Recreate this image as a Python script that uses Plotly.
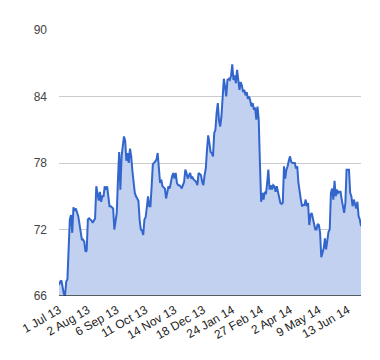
import plotly.graph_objects as go

values = [
    67.0, 67.3, 67.4, 66.8, 66.2, 66.0, 67.3, 67.5, 70.2, 72.9,
    73.3, 71.7, 74.0, 73.7, 73.9, 73.6, 73.2, 72.5, 71.6, 71.1,
    71.1, 70.9, 70.0, 70.1, 72.9, 73.0, 72.9, 72.8, 72.6, 72.8,
    73.0, 75.9, 75.3, 74.6, 75.4, 74.5, 75.0, 75.0, 75.9, 75.6,
    75.9, 74.8, 74.1, 74.1, 74.0, 73.9, 72.0, 72.8, 73.5, 76.5,
    79.0, 75.6, 78.6, 79.5, 80.4, 80.0, 78.2, 78.9, 78.0, 79.3,
    78.6, 77.3, 75.9, 75.3, 75.0, 74.8, 74.6, 72.9, 72.0, 71.9,
    71.5, 72.9, 73.1, 74.0, 75.0, 74.1, 74.1, 75.9, 77.9, 78.0,
    78.2, 78.3, 78.9, 77.7, 76.2, 76.5, 75.9, 75.8, 75.7, 74.8,
    75.3, 75.9, 75.7, 76.4, 76.8, 77.1, 76.6, 77.1, 76.2, 76.0,
    76.0, 75.9, 75.7, 76.0, 76.3, 77.4, 77.1, 76.6, 76.9, 77.1,
    76.6, 76.7, 76.5, 76.4, 76.3, 76.0, 77.1, 77.0, 76.9, 76.3,
    76.0, 76.9, 77.5, 79.2, 80.5, 79.8, 79.0, 78.9, 78.6, 80.7,
    81.0, 82.5, 83.4, 81.8, 81.3, 82.2, 84.0, 85.6, 84.9, 84.0,
    85.5, 85.6, 85.5, 85.9, 86.9, 85.5, 85.9, 85.2, 86.4, 85.6,
    84.6, 85.3, 85.0, 84.4, 84.6, 84.1, 84.4, 83.8, 84.0, 83.6,
    83.1, 83.4, 82.8, 83.0, 81.9, 83.1, 81.9, 78.0, 74.5, 75.3,
    74.7, 75.4, 75.2, 76.2, 77.4, 75.6, 76.0, 75.6, 76.0, 75.9,
    75.4, 75.9, 75.3, 74.8, 74.4, 74.3, 74.4, 77.7, 76.6, 77.4,
    77.7, 78.2, 78.6, 78.1, 78.0, 78.0, 78.0, 77.5, 77.7, 76.2,
    75.3, 74.7, 74.1, 74.2, 74.2, 74.7, 74.1, 74.4, 72.4, 73.3,
    73.5, 72.9, 72.4, 72.0, 72.0, 72.5, 72.4, 71.7, 69.5, 70.0,
    70.3, 71.2, 70.2, 71.0, 71.8, 72.0, 75.3, 75.7, 74.7, 76.4,
    75.0, 75.6, 75.3, 75.4, 75.4, 74.7, 74.2, 73.5, 74.4, 77.4,
    77.4, 77.4, 75.3, 75.0, 74.1, 74.7, 74.3, 73.9, 74.5, 73.2,
    72.9, 72.3,
]

tick_labels = ["1 Jul 13", "2 Aug 13", "6 Sep 13", "11 Oct 13", "14 Nov 13",
               "18 Dec 13", "24 Jan 14", "27 Feb 14", "2 Apr 14", "9 May 14",
               "13 Jun 14"]
tick_step = 24
y_ticks = [66, 72, 78, 84, 90]

x = list(range(len(values)))
tick_positions = [i * tick_step for i in range(len(tick_labels))]

fig = go.Figure()
fig.add_trace(go.Scatter(
    x=x, y=values, mode="lines", fill="tozeroy",
    line=dict(color="#3366cc", width=2),
    fillcolor="#c2d1f0", hoverinfo="skip",
))

font_family = "Arial, Liberation Sans, sans-serif"
fig.update_layout(
    width=372, height=352,
    margin=dict(l=49, r=19, t=22, b=64),
    paper_bgcolor="white", plot_bgcolor="white",
    showlegend=False,
    font=dict(family=font_family, size=12, color="#222222"),
    xaxis=dict(
        range=[0, len(values) - 1],
        tickmode="array", tickvals=tick_positions, ticktext=tick_labels,
        tickangle=-30, showgrid=False, zeroline=False, showline=False,
        ticks="", ticklabelstandoff=4,
        tickfont=dict(size=12, color="#222222"),
    ),
    yaxis=dict(
        range=[66, 90], tickmode="array", tickvals=y_ticks,
        showgrid=True, gridcolor="#cccccc", gridwidth=1,
        zeroline=False, showline=False, ticks="",
        ticklabelstandoff=11,
        tickfont=dict(size=12, color="#444444"),
    ),
)
# baseline at the bottom of the value axis
fig.add_shape(type="line", xref="paper", yref="y", x0=0, x1=1, y0=66, y1=66,
              line=dict(color="#333333", width=1.5))

fig.write_html("out.html")
